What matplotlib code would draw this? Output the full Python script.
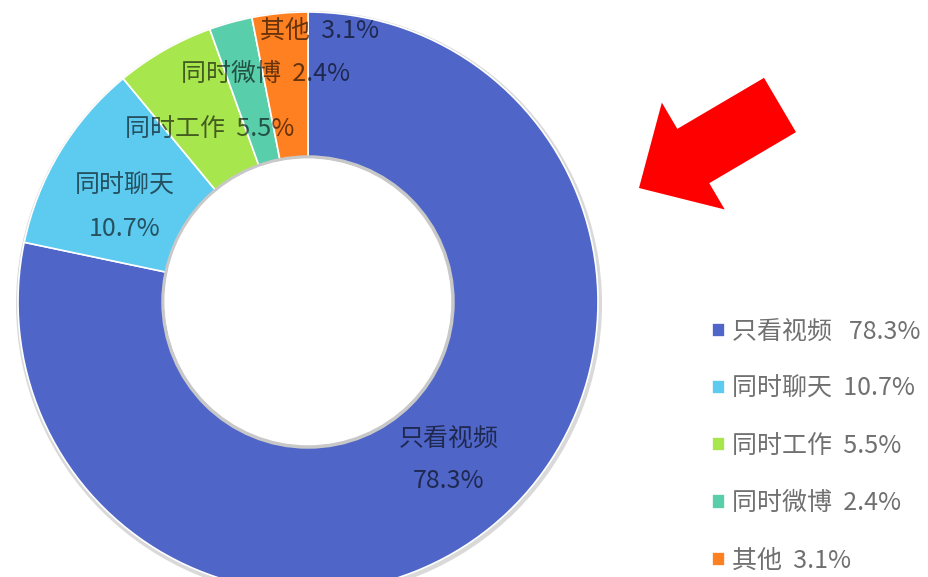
import numpy as np
import matplotlib
matplotlib.use('Agg')
from matplotlib import pyplot as plt
from matplotlib.patches import Circle, FancyArrow

plt.rcParams['font.family'] = ['Noto Sans CJK SC', 'DejaVu Sans']

# dados
categorias = ['只看视频', '同时聊天', '同时工作', '同时微博', '其他']
valores = [78.3, 10.7, 5.5, 2.4, 3.1]
cores = ['#4F66C8', '#5DCAF0', '#A8E64E', '#58CEAA', '#FF8020']

# posicao dos rotulos dentro do anel (pixels, y para baixo) e quebra de linha
pos_rotulos = [(449, 460), (125, 207), (210, 129), (266, 74), (320, 31)]
quebra = [True, True, False, False, False]

fig = plt.figure(figsize=(9.29, 5.77), dpi=100)
ax = fig.add_axes([0, 0, 1, 1])

H = 577
cx, cy, raio = 308, H - 302, 290

# sombra do anel
ax.add_patch(Circle((cx + 1, cy - 2), raio + 3, facecolor='#d9d9d9', edgecolor='none', zorder=0))

fatias, _ = ax.pie(valores, colors=cores, startangle=90, counterclock=False,
                   center=(cx, cy), radius=raio,
                   wedgeprops=dict(width=raio * 0.5, edgecolor='white', linewidth=1.2))

# sombra interna do furo
ax.add_patch(Circle((cx, cy), raio * 0.5, facecolor='white', edgecolor='#c8c8c8',
                    linewidth=2.5, zorder=3))
ax.add_patch(Circle((cx - 1, cy + 1), raio * 0.5 - 2.5, facecolor='white', edgecolor='none', zorder=4))

# rotulos
for nome, v, (px, py), q in zip(categorias, valores, pos_rotulos, quebra):
    txt = f'{nome}\n{v}%' if q else f'{nome}  {v}%'
    ax.text(px, H - py, txt, ha='center', va='center', fontsize=18,
            color='black', alpha=0.6, linespacing=1.85, zorder=5)

# seta vermelha
ax.add_patch(FancyArrow(780, H - 105, -141, -83, width=63, head_width=124, head_length=63,
                        length_includes_head=True, color='#FF0000', linewidth=0, zorder=5))

# legenda
rotulos_leg = ['只看视频   78.3%', '同时聊天  10.7%', '同时工作  5.5%', '同时微博  2.4%', '其他  3.1%']
leg = ax.legend(fatias, rotulos_leg, loc='upper left', bbox_to_anchor=(690 / 929, 1 - 296 / H),
                frameon=False, fontsize=18, labelspacing=1.25, handlelength=0.5, handleheight=0.5,
                handletextpad=0.3, labelcolor='#707070')

ax.set_xlim(0, 929)
ax.set_ylim(0, H)
ax.set_aspect('equal')
ax.axis('off')

plt.savefig('out.png', dpi=100)
